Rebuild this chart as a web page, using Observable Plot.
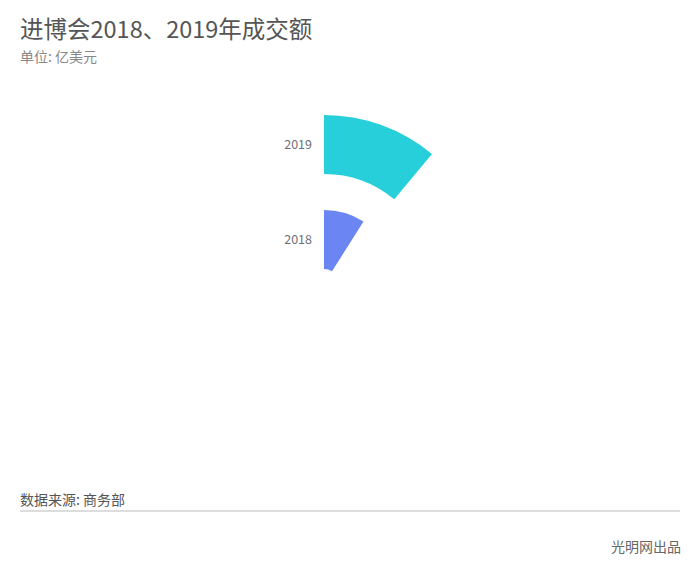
<!DOCTYPE html>
<html><head><meta charset="utf-8">
<script src="https://cdn.jsdelivr.net/npm/d3@7"></script>
<script src="https://cdn.jsdelivr.net/npm/@observablehq/plot@0.6"></script>
<style>
html,body{margin:0;padding:0;background:#fff}
body{width:700px;height:576px;position:relative;overflow:hidden;font-family:"Noto Sans CJK SC","Noto Sans",sans-serif}
#title{position:absolute;left:20px;top:17px;font-size:23.5px;line-height:23px;color:#555;white-space:nowrap}
#subtitle{position:absolute;left:20px;top:49px;font-size:14px;line-height:14px;color:#888;white-space:nowrap}
#chart{position:absolute;left:0;top:70px}
#source{position:absolute;left:20px;top:492px;font-size:14px;line-height:14px;color:#555;white-space:nowrap}
#rule{position:absolute;left:20px;top:510px;width:660px;height:2px;background:#ddd}
#credit{position:absolute;right:19px;top:539px;font-size:14px;line-height:14px;color:#666;white-space:nowrap}
</style></head><body>
<div id="title">进博会2018、2019年成交额</div>
<div id="subtitle">单位: 亿美元</div>
<div id="chart"></div>
<div id="source">数据来源: 商务部</div>
<div id="rule"></div>
<div id="credit">光明网出品</div>
<script>
const years = ["2018", "2019"];
const values = [578.3, 711.3];
const colors = ["#6b86f3", "#26cfd9"];
const angleMax = 6450;

const data = years.map((year, i) => ({year, value: values[i]}));
const cx = 324, cy = 214;

function polarBars(index, scales) {
  const g = d3.create("svg:g").attr("transform", `translate(${cx},${cy})`);
  const bw = scales.y.bandwidth();
  const arc = d3.arc();
  for (const d of data) {
    const r0 = scales.y(d.year);
    g.append("path")
      .attr("d", arc({innerRadius: r0, outerRadius: r0 + bw, startAngle: 0, endAngle: scales.x(d.value)}))
      .attr("fill", scales.color(d.year));
    g.append("text")
      .attr("x", -12)
      .attr("y", -(r0 + bw / 2))
      .attr("dy", "0.35em")
      .attr("text-anchor", "end")
      .attr("fill", "#6e7079")
      .attr("font-size", 12.5)
      .text(d.year);
  }
  return g.node();
}

const chart = Plot.plot({
  width: 700,
  height: 420,
  margin: 0,
  style: {fontFamily: '"Noto Sans CJK SC","Noto Sans",sans-serif', background: "transparent"},
  x: {domain: [0, angleMax], range: [0, 2 * Math.PI], axis: null},
  y: {type: "band", domain: years, range: [15, 169], paddingInner: 0.38, paddingOuter: 0, round: false, axis: null},
  color: {domain: years, range: colors},
  marks: [
    Plot.dot(data, {x: "value", y: "year", fill: "year", r: 0}),
    polarBars
  ]
});
document.getElementById("chart").appendChild(chart);
</script>
</body></html>
